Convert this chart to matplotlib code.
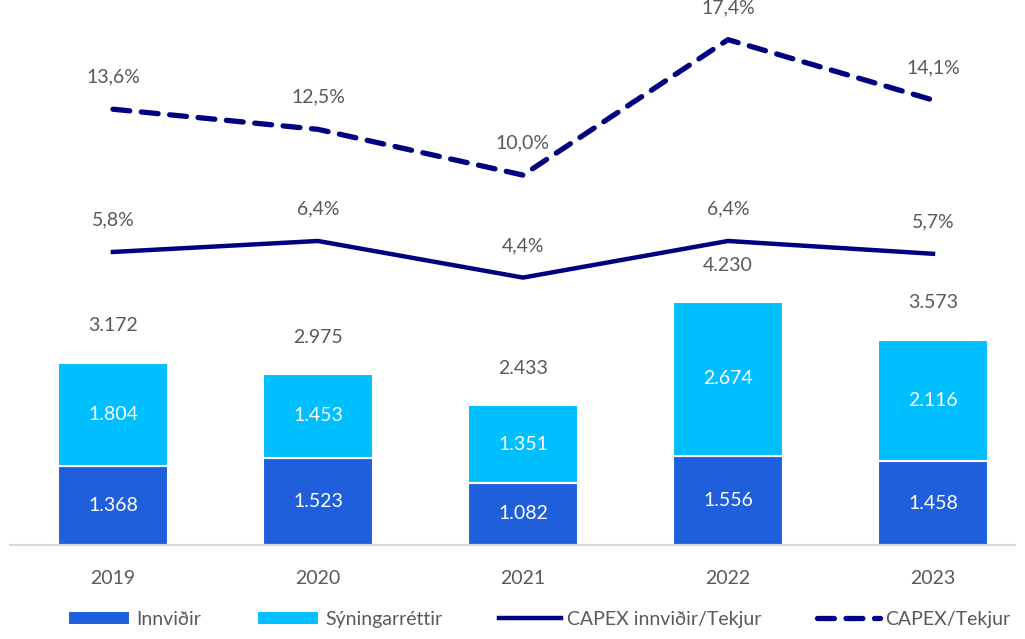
import matplotlib
matplotlib.use("Agg")
import matplotlib.pyplot as plt

years = ["2019", "2020", "2021", "2022", "2023"]
innvidir = [1368, 1523, 1082, 1556, 1458]
syningar = [1804, 1453, 1351, 2674, 2116]
totals = [3172, 2975, 2433, 4230, 3573]
capex_innv = [5.8, 6.4, 4.4, 6.4, 5.7]
capex_tekjur = [13.6, 12.5, 10.0, 17.4, 14.1]

def fmt_int(v):
    return f"{v:,}".replace(",", ".")

def fmt_pct(v):
    return f"{v:.1f}%".replace(".", ",")

plt.rcParams['font.family'] = ['Lato', 'DejaVu Sans']
W, H = 1025, 639
fig = plt.figure(figsize=(W / 100, H / 100), dpi=100)
ax = fig.add_axes([10 / W, (H - 545) / H, 1005 / W, 535 / H])
x = list(range(len(years)))
c1, c2, cl = "#1F5FDB", "#00BFFF", "#000080"
tc = "#595959"

b1 = ax.bar(x, innvidir, width=0.54, color=c1, edgecolor="white", linewidth=1.5, label="Innviðir")
b2 = ax.bar(x, syningar, width=0.54, bottom=innvidir, color=c2, edgecolor="white", linewidth=1.5, label="Sýningarréttir")
for i in x:
    ax.text(i, innvidir[i] / 2, fmt_int(innvidir[i]), ha="center", va="center", color="white", fontsize=14)
    ax.text(i, innvidir[i] + syningar[i] / 2, fmt_int(syningar[i]), ha="center", va="center", color="white", fontsize=14)
    ax.annotate(fmt_int(totals[i]), (i, totals[i]), xytext=(0, 37), textcoords="offset pixels",
                ha="center", va="center", color=tc, fontsize=14)
ax.set_xlim(-0.502, 4.4)
ax.set_ylim(0, 535 / 0.0574)
ax.set_yticks([])
ax.set_xticks(x)
ax.set_xticklabels(years, fontsize=14, color=tc)
ax.tick_params(axis="x", length=0, pad=18)
for s in ["top", "right", "left"]:
    ax.spines[s].set_visible(False)
ax.spines["bottom"].set_color("#D9D9D9")
ax.spines["bottom"].set_linewidth(1.5)

ax2 = ax.twinx()
ax2.set_ylim(-10.21, 19.02)
l1, = ax2.plot(x, capex_innv, color=cl, linewidth=3.2, label="CAPEX innviðir/Tekjur")
l2, = ax2.plot(x, capex_tekjur, color=cl, linewidth=3.8, linestyle=(0, (3.2, 2.2)),
               dash_capstyle="round", label="CAPEX/Tekjur")
for i in x:
    ax2.annotate(fmt_pct(capex_innv[i]), (i, capex_innv[i]), xytext=(0, 32), textcoords="offset pixels",
                 ha="center", va="center", color=tc, fontsize=14)
    ax2.annotate(fmt_pct(capex_tekjur[i]), (i, capex_tekjur[i]), xytext=(0, 32), textcoords="offset pixels",
                 ha="center", va="center", color=tc, fontsize=14)
ax2.set_yticks([])
for s in ["top", "right", "left", "bottom"]:
    ax2.spines[s].set_visible(False)

leg = fig.legend(handles=[b1, b2, l1, l2], loc="lower center", bbox_to_anchor=(0.526, -0.01), ncol=4,
                 frameon=False, fontsize=14, handlelength=3.2, handletextpad=0.3, columnspacing=2.9)
for t in leg.get_texts():
    t.set_color(tc)

fig.savefig("out.png", dpi=100)
